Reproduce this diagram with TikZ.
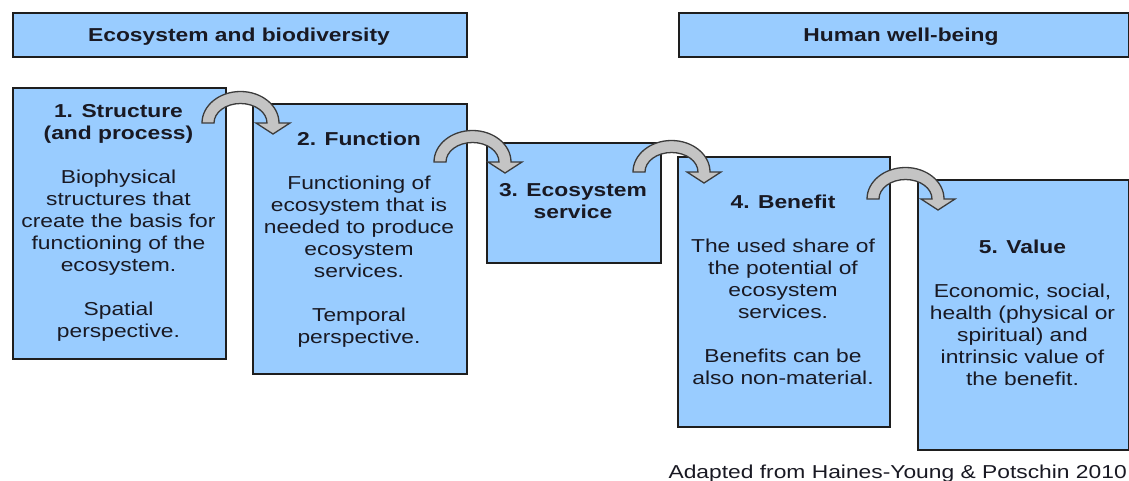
\documentclass[tikz,border=0pt]{standalone}
\usepackage{fontspec}
\setmainfont{Liberation Sans}[FakeStretch=1.22]
\definecolor{boxblue}{RGB}{153,204,255}
\definecolor{edge}{RGB}{30,30,30}
\definecolor{arrowgray}{RGB}{196,196,196}
\definecolor{arrowedge}{RGB}{60,60,60}
\definecolor{txt}{RGB}{25,25,35}
\tikzset{
  panel/.style={draw=edge, line width=1.6pt, fill=boxblue, inner sep=0pt, anchor=north west},
  hdrtext/.style={font=\fontsize{18.7}{22}\selectfont\bfseries, text=txt, inner sep=0pt, anchor=base},
  bodytext/.style={font=\fontsize{18.7}{22}\selectfont, text=txt, align=center, inner sep=0pt, anchor=north},
  captext/.style={font=\fontsize{18.7}{22}\selectfont, text=txt, inner sep=0pt, anchor=base east},
  turnarrow/.style={draw=arrowedge, line width=1.3pt, fill=arrowgray, line join=miter},
}
\newcommand\turnarrowat[2]{%
  \draw[turnarrow] (#1,#2)
    arc[start angle=180, end angle=360, x radius=38.5, y radius=31.5]
    -- ++(11,0) -- ++(-17,11) -- ++(-17,-11) -- ++(11,0)
    arc[start angle=360, end angle=180, x radius=26.5, y radius=19.5]
    -- cycle;}
\begin{document}
\begin{tikzpicture}[x=1pt, y=1pt, yscale=-1]
\useasboundingbox (0,0) rectangle (1129,480);
% headers
\node[panel, minimum width=454pt, minimum height=44pt] (h1) at (12,12) {};
\node[panel, minimum width=450pt, minimum height=44pt] (h2) at (678,12) {};
\node[hdrtext] (h1t) at (239,41) {Ecosystem and biodiversity};
\node[hdrtext] (h2t) at (901,41) {Human well-being};
% boxes
\node[panel, minimum width=213pt, minimum height=271pt] (b1) at (12,87) {};
\node[panel, minimum width=214pt, minimum height=270pt] (b2) at (252,103) {};
\node[panel, minimum width=174pt, minimum height=120pt] (b3) at (486,142) {};
\node[panel, minimum width=212pt, minimum height=270pt] (b4) at (677,156) {};
\node[panel, minimum width=211pt, minimum height=270pt] (b5) at (917,179) {};
% texts
\node[bodytext] (t1) at (118.5,104.5) {\textbf{1. Structure}\\\textbf{(and process)}\\[22pt]Biophysical\\structures that\\create the basis for\\functioning of the\\ecosystem.\\[22pt]Spatial\\perspective.};
\node[bodytext] (t2) at (359,131.5) {\textbf{2. Function}\\[22pt]Functioning of\\ecosystem that is\\needed to produce\\ecosystem\\services.\\[22pt]Temporal\\perspective.};
\node[bodytext] (t3) at (573,183.5) {\textbf{3. Ecosystem}\\\textbf{service}};
\node[bodytext] (t4) at (783,194.5) {\textbf{4. Benefit}\\[22pt]The used share of\\the potential of\\ecosystem\\services.\\[22pt]Benefits can be\\also non-material.};
\node[bodytext] (t5) at (1022.5,239.5) {\textbf{5. Value}\\[22pt]Economic, social,\\health (physical or\\spiritual) and\\intrinsic value of\\the benefit.};
% curved arrows
\turnarrowat{202}{123}
\turnarrowat{434}{162}
\turnarrowat{633}{172}
\turnarrowat{867}{199}
% caption
\node[captext] (cap) at (1127,478) {Adapted from Haines-Young \& Potschin 2010};
\end{tikzpicture}
\end{document}
